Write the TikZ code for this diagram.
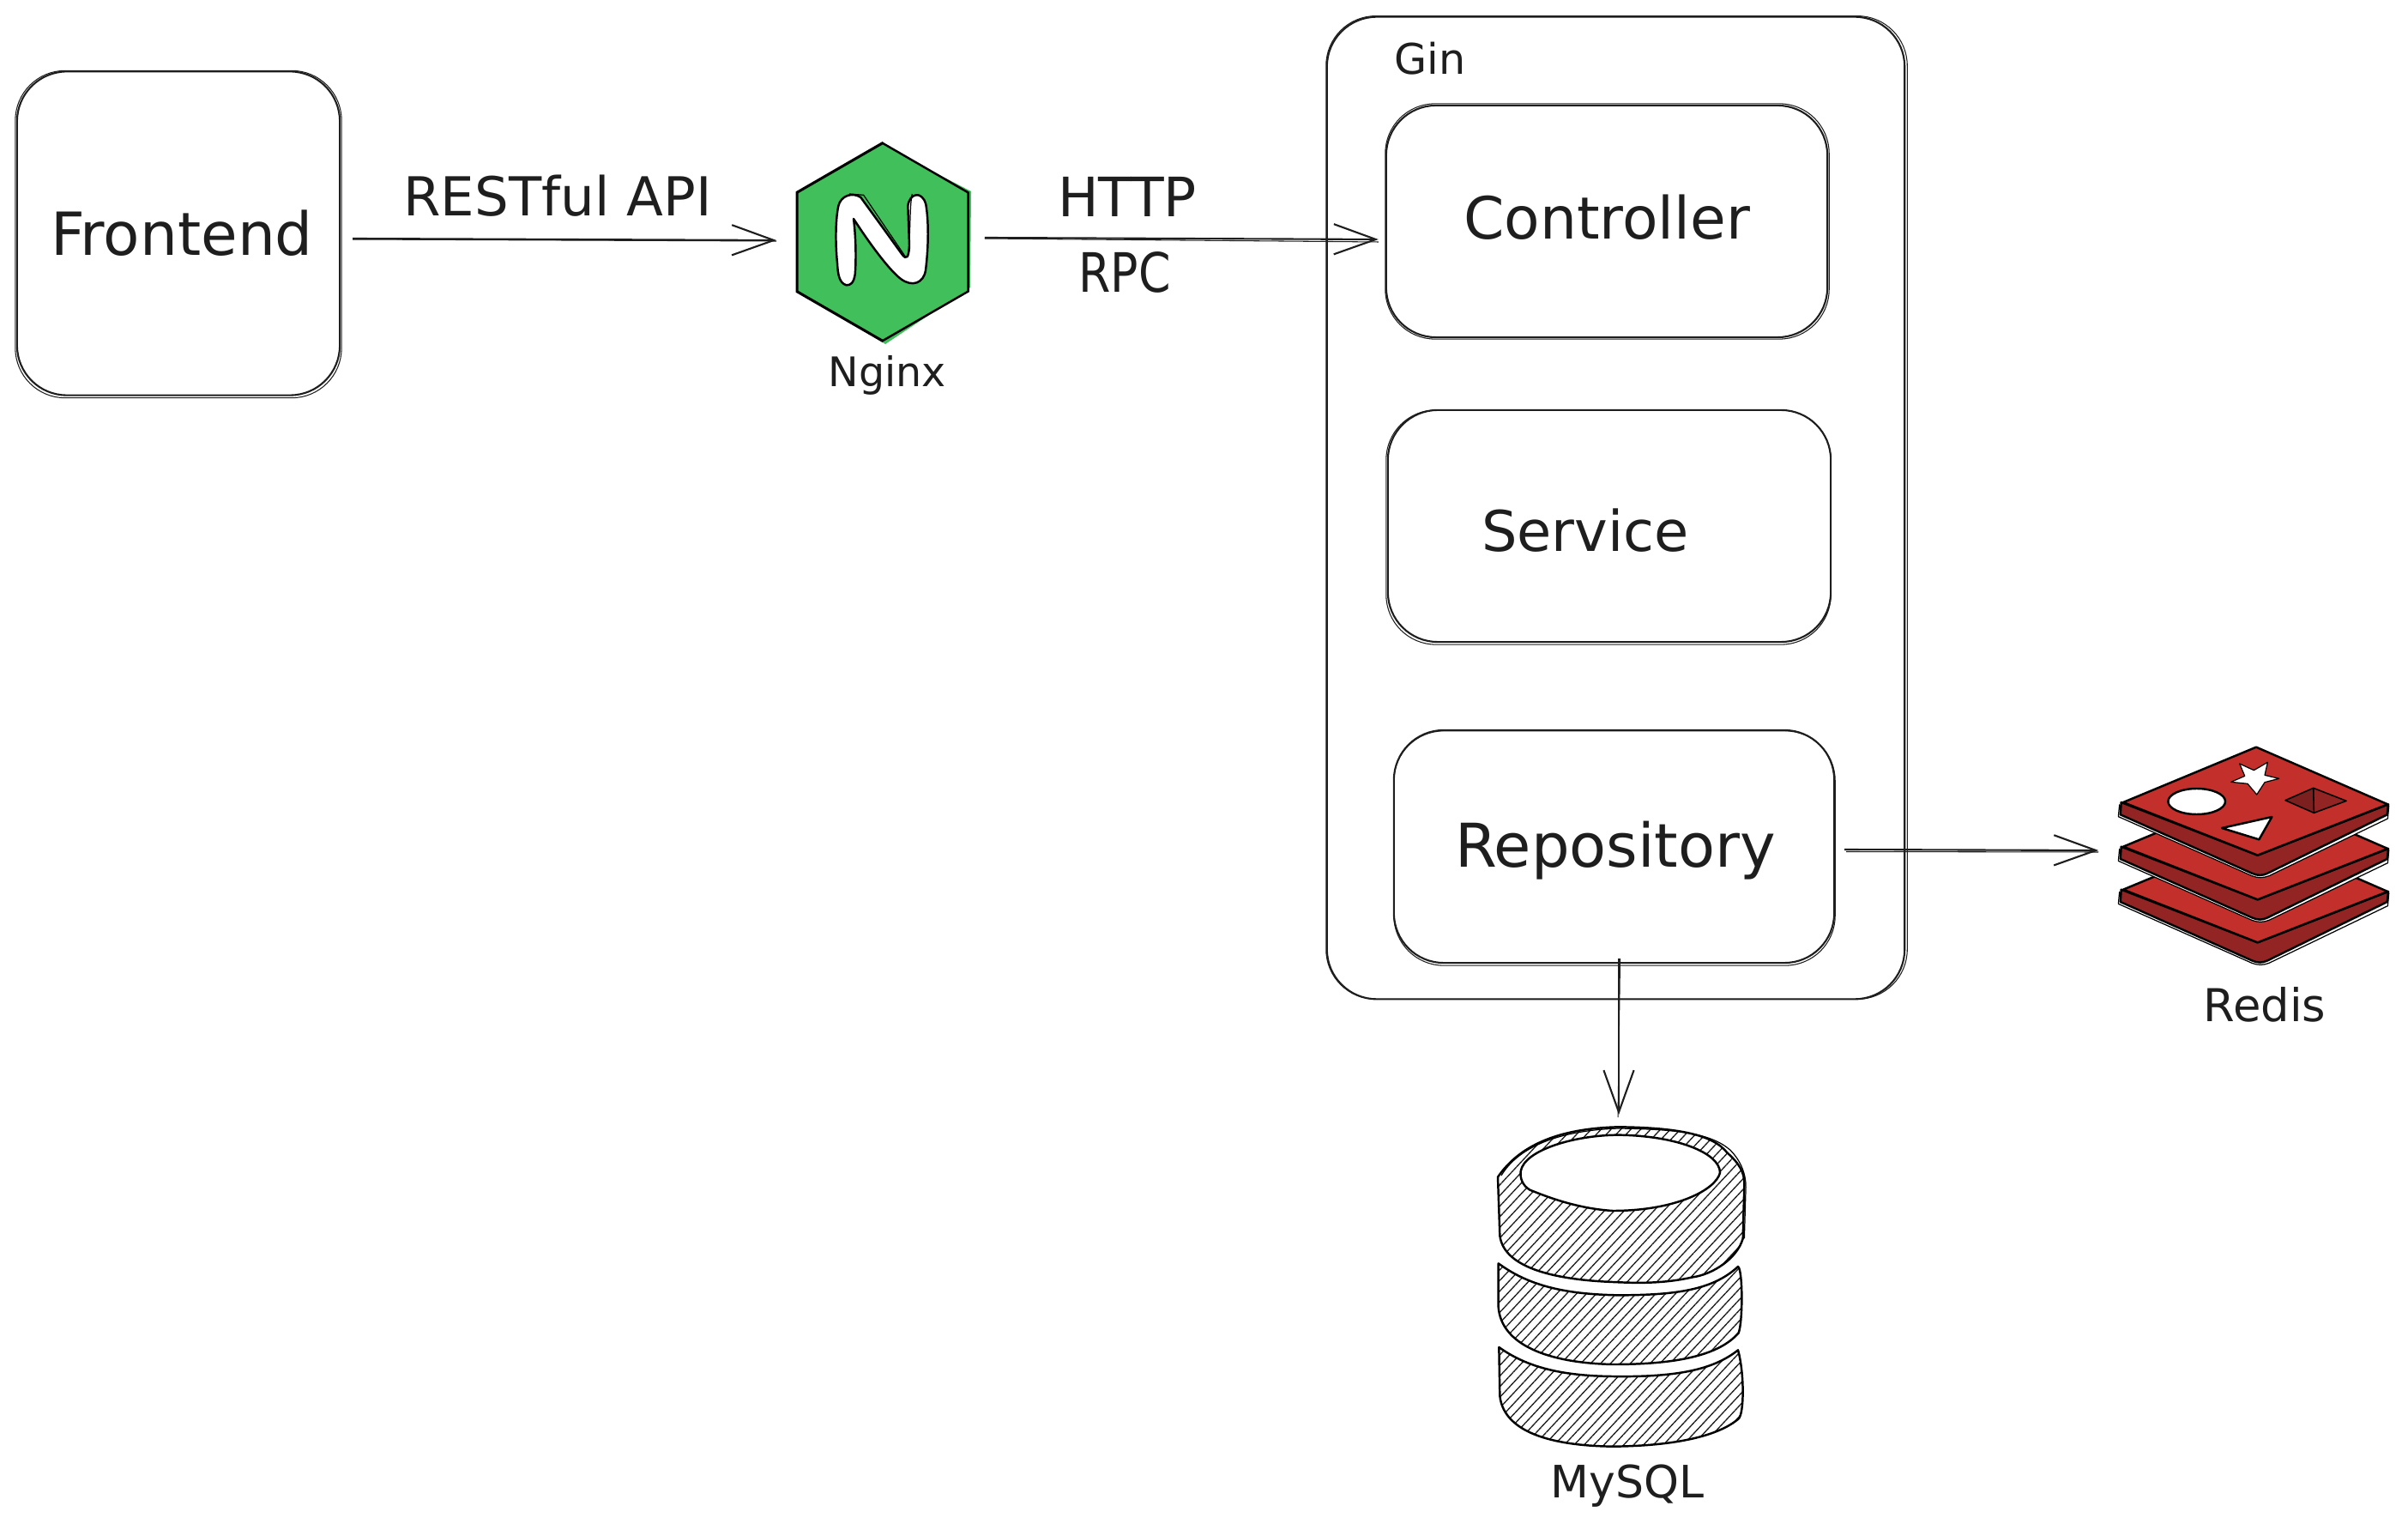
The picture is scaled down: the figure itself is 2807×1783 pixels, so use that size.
\documentclass[tikz,border=0pt]{standalone}
\usepackage{fontspec}
\setmainfont{DejaVu Sans}
\usetikzlibrary{arrows.meta,shapes.geometric,patterns.meta,calc}
\definecolor{ink}{HTML}{1E1E1E}
\definecolor{ngreen}{HTML}{41BF5A}
\definecolor{rred}{HTML}{C32F2A}
\definecolor{rdark}{HTML}{922424}
\tikzset{
  px/.style={x=0.01cm,y=-0.01cm},
  boxnode/.style={draw=ink,line width=.6pt,rounded corners=.58cm,inner sep=0pt},
  skline/.style={draw=ink,line width=.3pt,rounded corners=.58cm},
  lbl/.style={anchor=base,inner sep=0pt,text=ink},
  conn/.style={draw=ink,line width=.6pt,-{Straight Barb[length=13.9pt,width=10pt,line width=.6pt]}},
  connsk/.style={draw=ink,line width=.3pt},
  iconbox/.style={inner sep=0pt,draw=none},
  blk/.style={draw=black,line width=.7pt,line join=round},
  blkthin/.style={draw=black,line width=.35pt,line join=round},
  hatch/.style={pattern={Lines[angle=47,distance=2.4pt,line width=.38pt]},pattern color=ink},
}
\newcommand{\redislayer}[1]{%
  \begin{scope}[shift={(0,#1)}]
    \draw[blkthin,fill=white] (92,262) -- (88,305) -- (555,512) .. controls (575,520) and (595,520) .. (615,512) -- (1030,312) -- (1034,268);
    \draw[blk,fill=rdark] (98,255) -- (95,298) -- (555,503) .. controls (575,512) and (592,512) .. (610,503) -- (1028,298) -- (1032,262) -- (575,440) -- cycle;
    \draw[blk,fill=rred] (105,255) -- (570,62) -- (1030,262) -- (575,440) -- cycle;
  \end{scope}}
\begin{document}
\begin{tikzpicture}[px]
\useasboundingbox (0,0) rectangle (2807,1783);

% Boxes
\node[boxnode,minimum width=3.76cm,minimum height=3.77cm] (frontend) at (208,272) {};
\node[boxnode,minimum width=6.73cm,minimum height=11.44cm] (gin) at (1883.5,592) {};
\node[boxnode,minimum width=5.14cm,minimum height=2.70cm] (controller) at (1873,258) {};
\node[boxnode,minimum width=5.16cm,minimum height=2.70cm] (service) at (1876,613) {};
\node[boxnode,minimum width=5.13cm,minimum height=2.71cm] (repository) at (1881.5,986.5) {};

% second sketch strokes
\draw[skline] ([shift={(-1,0)}]frontend.north west) rectangle ([shift={(1,2)}]frontend.south east);
\draw[skline] ([shift={(0,0)}]gin.north west) rectangle ([shift={(2,-1)}]gin.south east);
\draw[skline] ([shift={(0,-1)}]controller.north west) rectangle ([shift={(1,1)}]controller.south east);
\draw[skline] ([shift={(-1,1)}]service.north west) rectangle ([shift={(-1,2)}]service.south east);
\draw[skline] ([shift={(1,2)}]repository.north west) rectangle ([shift={(0,2)}]repository.south east);

% Nginx
\fill[ngreen] (931,228) -- (1031,171) -- (1132,223) -- (1131,335) -- (1032,401) -- (931,338) -- cycle;
\node[regular polygon,regular polygon sides=6,regular polygon rotate=30,minimum size=2.3cm,inner sep=0pt,draw=black,line width=.7pt,fill=ngreen] (nginx) at (1029,282) {};
\draw[blkthin] (nginx.corner 1) -- (nginx.corner 2) -- (nginx.corner 3) -- (nginx.corner 4);
\begin{scope}[shift={(880,140)},scale=.33333]
  \path[fill=white] (320,577) .. controls (295,570) and (290,540) .. (288,500)
    .. controls (280,420) and (283,340) .. (292,300)
    .. controls (300,265) and (340,250) .. (370,270)
    -- (450,380) -- (515,470)
    .. controls (530,490) and (538,480) .. (540,440)
    -- (535,300) .. controls (540,255) and (585,245) .. (598,295)
    .. controls (610,370) and (605,460) .. (597,525)
    .. controls (590,570) and (550,585) .. (510,555)
    .. controls (470,525) and (400,430) .. (345,345)
    .. controls (352,400) and (355,480) .. (350,540)
    .. controls (345,570) and (335,577) .. (320,577) -- cycle;
  \draw[blk] (320,577) .. controls (295,570) and (290,540) .. (288,500)
    .. controls (280,420) and (283,340) .. (292,300)
    .. controls (300,265) and (340,250) .. (370,270)
    -- (450,380) -- (515,470)
    .. controls (530,490) and (538,480) .. (540,440)
    -- (535,300) .. controls (540,255) and (585,245) .. (598,295)
    .. controls (610,370) and (605,460) .. (597,525)
    .. controls (590,570) and (550,585) .. (510,555)
    .. controls (470,525) and (400,430) .. (345,345)
    .. controls (352,400) and (355,480) .. (350,540)
    .. controls (345,570) and (335,577) .. (320,577) -- cycle;
  \draw[blkthin] (330,258) -- (380,262) -- (460,380) -- (528,480);
  \draw[blkthin] (550,258) .. controls (540,300) and (545,400) .. (535,478);
\end{scope}

% Redis
\node[iconbox,minimum width=3.18cm,minimum height=2.52cm] (redis) at (2629,996) {};
\begin{scope}[shift={(2440,850)},scale=.33333]
  \redislayer{305}
  \redislayer{155}
  \redislayer{0}
  \draw[blk,fill=white] (362,252) ellipse [x radius=100,y radius=45];
  \draw[blk,fill=white,line width=.35pt] (512,120) -- (562,143) -- (610,115) -- (600,160) -- (650,172) -- (600,185) -- (572,228) -- (540,190) -- (482,184) -- (530,163) -- cycle;
  \draw[blk,fill=white] (450,345) -- (625,306) -- (580,385) -- cycle;
  \fill[rdark!85!black] (672,248) -- (770,205) -- (770,292) -- cycle;
  \fill[rdark] (770,205) -- (885,250) -- (772,292) -- cycle;
  \draw[blk,line width=.45pt] (672,248) -- (770,205) -- (885,250) -- (772,292) -- cycle (770,205) -- (772,292);
\end{scope}

% MySQL
\node[iconbox,minimum width=2.90cm,minimum height=3.73cm] (mysql) at (1890,1499.5) {};
\begin{scope}[shift={(1720,1280)},scale=.33333]
  \draw[blk,hatch] (78,275) .. controls (150,170) and (280,105) .. (500,100)
    .. controls (700,102) and (830,125) .. (880,190)
    .. controls (925,230) and (940,260) .. (940,300)
    -- (935,490) .. controls (915,560) and (830,615) .. (760,625)
    .. controls (650,650) and (550,645) .. (480,642)
    .. controls (300,635) and (100,600) .. (85,480) -- cycle;
  \draw[blkthin] (90,270) .. controls (150,170) and (290,112) .. (500,105)
    .. controls (700,108) and (820,120) .. (890,180)
    .. controls (930,220) and (948,270) .. (945,320) -- (940,490);
  \draw[blk,fill=white] (158,255) .. controls (170,180) and (350,128) .. (500,128)
    .. controls (700,130) and (855,190) .. (855,260)
    .. controls (840,320) and (700,393) .. (480,393)
    .. controls (350,385) and (240,340) .. (190,320)
    .. controls (165,305) and (155,280) .. (158,255) -- cycle;
  \draw[blk,hatch] (80,577) .. controls (180,650) and (300,685) .. (500,688)
    .. controls (700,688) and (830,670) .. (918,588)
    .. controls (935,600) and (935,780) .. (920,820)
    .. controls (850,900) and (700,930) .. (480,930)
    .. controls (250,925) and (90,860) .. (80,730) -- cycle;
  \draw[blk,hatch] (82,870) .. controls (180,940) and (300,970) .. (480,972)
    .. controls (700,975) and (830,950) .. (918,880)
    .. controls (940,960) and (940,1100) .. (920,1120)
    .. controls (850,1180) and (700,1215) .. (480,1217)
    .. controls (300,1215) and (100,1180) .. (85,1040) -- cycle;
\end{scope}

% Connectors
\draw[conn] ([shift={(14,6)}]frontend.east) -- ([shift={(-23,-2)}]nginx.west);
\draw[connsk] ([shift={(14,7)}]frontend.east) -- ([shift={(-23,-1)}]nginx.west);
\draw[conn] ([shift={(18,-5)}]nginx.east) -- ([shift={(-8,21)}]controller.west);
\draw[connsk] ([shift={(18,-4)}]nginx.east) -- ([shift={(-8,24)}]controller.west);
\draw[conn] ([shift={(11,3.5)}]repository.east) -- ([shift={(-23,-5)}]redis.west);
\draw[connsk] ([shift={(13,6)}]repository.east) -- ([shift={(-23,-3)}]redis.west);
\draw[conn] ([shift={(5.5,-6)}]repository.south) -- ([shift={(-3,-13)}]mysql.north);
\draw[connsk] ([shift={(7,-6)}]repository.south) -- ([shift={(-4,-10)}]mysql.north);

% Labels
\node[lbl,font=\fontsize{19.7}{22}\selectfont] (tfrontend) at (212,298) {Frontend};
\node[lbl,font=\fontsize{17.8}{20}\selectfont] (trest) at (650,252) {RESTful API};
\node[lbl,font=\fontsize{18}{20}\selectfont] (thttp) at (1314,253) {HTTP};
\node[lbl,font=\fontsize{18}{20}\selectfont] (trpc) at (1311,341) {\scalebox{.85}[1]{RPC}};
\node[lbl,font=\fontsize{14}{16}\selectfont] (tgin) at (1667,87) {Gin};
\node[lbl,font=\fontsize{19.3}{22}\selectfont] (tcontroller) at (1873,279) {Controller};
\node[lbl,font=\fontsize{18.6}{21}\selectfont] (tservice) at (1848,643) {Service};
\node[lbl,font=\fontsize{20}{22}\selectfont] (trepository) at (1883,1011) {Repository};
\node[lbl,font=\fontsize{13.5}{16}\selectfont] (tnginx) at (1034,451) {Nginx};
\node[lbl,font=\fontsize{15}{17}\selectfont] (tredis) at (2640,1190) {Redis};
\node[lbl,font=\fontsize{14.8}{17}\selectfont] (tmysql) at (1897,1745) {MySQL};
\end{tikzpicture}
\end{document}
